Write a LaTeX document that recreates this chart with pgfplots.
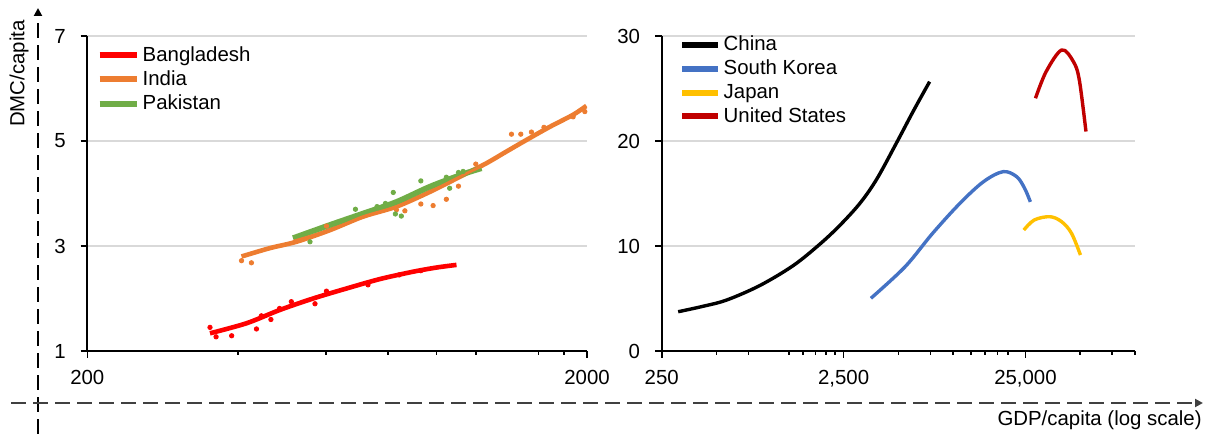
\documentclass[border=0pt]{standalone}
\usepackage{fontspec}
\setmainfont{Liberation Sans}
\usepackage{pgfplots}
\pgfplotsset{compat=1.18}
\usetikzlibrary{arrows.meta}
\definecolor{cBD}{HTML}{FF0000}
\definecolor{cIN}{HTML}{ED7D31}
\definecolor{cPK}{HTML}{70AD47}
\definecolor{cCN}{HTML}{000000}
\definecolor{cKR}{HTML}{4472C4}
\definecolor{cJP}{HTML}{FFC000}
\definecolor{cUS}{HTML}{C00000}
\definecolor{gridgray}{HTML}{D9D9D9}
\pgfplotsset{
  common/.style={
    scale only axis, height=157.5pt,
    anchor=south west,
    axis lines=left,
    axis line style={-, line width=1pt, black},
    tick align=outside,
    major tick length=3.3pt, minor tick length=2pt,
    every tick/.style={black, line width=0.8pt},
    ymajorgrids, grid style={gridgray, line width=0.75pt},
    /pgf/number format/assume math mode=true,
    ticklabel style={font=\fontsize{10.2}{12}\selectfont},
    xticklabel style={yshift=-3pt},
    yticklabel style={xshift=-4pt},
    legend cell align=left,
    legend style={draw=none, fill=none, font=\fontsize{10.2}{12}\selectfont,
      row sep=0.2pt, inner sep=0pt,
      nodes={inner sep=1.5pt}},
    legend image code/.code={\draw[##1, line width=3pt] (0pt,0pt) -- (18.5pt,0pt);},
  },
  bandline/.style={line width=2.3pt, no marks, line join=round, smooth, tension=0.5},
  rline/.style={line width=1.7pt, no marks, line join=round, smooth, tension=0.55},
  outl/.style={only marks, mark=*, mark size=1.1pt, forget plot},
}
\begin{document}
\begin{tikzpicture}
\useasboundingbox (0,0) rectangle (606pt,217pt);
% ---------- left panel ----------
\begin{axis}[xmode=log, common, at={(43.65pt,41.5pt)}, width=249.85pt,
  xmin=200, xmax=2000, ymin=1, ymax=7,
  xtick={200,2000}, xticklabels={200,2000},
  minor xtick={400,600,800,1000,1200,1600,1800},
  ytick={1,3,5,7}, yticklabels={1,3,5,7},
  legend style={at={(0.018,0.978)}, anchor=north west},
]
\addplot[bandline, cBD] coordinates {
 (352,1.337) (417,1.53) (485,1.78) (566,2.00) (660,2.19) (770,2.37) (897,2.51) (1000,2.59) (1096,2.64)
};
\addlegendentry{Bangladesh}
\addplot[bandline, cIN] coordinates {
 (407,2.80) (464,2.96) (524,3.08) (611,3.30) (713,3.56) (831,3.75) (969,4.03) (1130,4.35) (1260,4.58) (1380,4.80) (1513,5.02) (1685,5.27) (1876,5.50) (1995,5.67)
};
\addlegendentry{India}
\addplot[bandline, cPK, line width=2.8pt] coordinates {
 (516,3.15) (611,3.40) (713,3.62) (831,3.84) (969,4.13) (1130,4.37) (1230,4.48)
};
\addlegendentry{Pakistan}
\addplot[line width=1.4pt, no marks, smooth, tension=0.5, cIN, forget plot] coordinates {
 (516,3.09) (611,3.30) (713,3.56) (831,3.75) (969,4.03) (1130,4.35) (1230,4.52)
};
\addplot[outl, cBD] coordinates {
 (352,1.45) (362,1.27) (389,1.29) (436,1.42) (446,1.67) (466,1.60) (485,1.81) (512,1.94) (571,1.90) (602,2.14) (729,2.26) (842,2.45) (930,2.53)
};
\addplot[outl, cIN] coordinates {
 (407,2.72) (426,2.68) (602,3.38) (831,3.69) (864,3.67) (930,3.80) (984,3.77) (1046,3.89) (1106,4.14) (1198,4.56) (1412,5.13) (1474,5.13) (1548,5.17) (1640,5.26) (1876,5.46) (1980,5.56)
};
\addplot[outl, cPK] coordinates {
 (558,3.08) (688,3.70) (760,3.75) (790,3.81) (819,4.02) (827,3.61) (850,3.57) (930,4.24) (1046,4.31) (1062,4.10) (1106,4.40) (1130,4.42)
};
\end{axis}
% ---------- right panel ----------
\begin{axis}[xmode=log, common, at={(330.85pt,41.5pt)}, width=236.65pt,
  xmin=250, xmax=100000, ymin=0, ymax=30,
  xtick={250,2500,25000}, xticklabels={250,{2,500},{25,000}},
  minor xtick={500,750,1250,1500,1750,2000,2250,5000,7500,10000,12500,15000,17500,20000,50000,75000,100000},
  ytick={0,10,20,30}, yticklabels={0,10,20,30},
  legend style={at={(0.036,1.012)}, anchor=north west},
  legend image code/.code={\draw[#1, line width=3pt] (0pt,0pt) -- (17.8pt,0pt);},
]
\addplot[rline, cCN] coordinates {
 (308,3.74) (420,4.25) (570,4.86) (869,6.25) (1325,8.15) (1858,10.2) (2395,12.0) (3085,14.1) (3813,16.4) (4912,19.9) (6065,22.9) (7429,25.65)
};
\addlegendentry{China}
\addplot[rline, cKR] coordinates {
 (3533,5.02) (5450,8.03) (7710,11.2) (10910,14.07) (14680,16.12) (18830,17.08) (22370,16.6) (24720,15.5) (26600,14.2)
};
\addlegendentry{South Korea}
\addplot[rline, cJP] coordinates {
 (24480,11.52) (27950,12.48) (34100,12.79) (39550,12.31) (44780,11.21) (50130,9.14)
};
\addlegendentry{Japan}
\addplot[rline, cUS] coordinates {
 (28380,24.07) (32450,26.6) (39550,28.67) (45880,27.55) (49430,25.8) (53760,20.9)
};
\addlegendentry{United States}
\end{axis}
% ---------- dashed frame arrows ----------
\draw[black, line width=1.4pt, dash pattern=on 7.5pt off 3.5pt, -{Triangle[length=4pt,width=4pt]}] (19pt,0pt) -- (19pt,213pt);
\draw[black!75, line width=1.3pt, dash pattern=on 7.5pt off 3.5pt, -{Triangle[length=4pt,width=4pt]}] (5.5pt,15.5pt) -- (601.5pt,15.5pt);
\node[rotate=90, anchor=east, font=\fontsize{10.2}{12}\selectfont, inner sep=0pt] at (9.5pt,207pt) {DMC/capita};
\node[anchor=east, font=\fontsize{10.2}{12}\selectfont, inner sep=0pt] at (601pt,7pt) {GDP/capita (log scale)};
\end{tikzpicture}
\end{document}
